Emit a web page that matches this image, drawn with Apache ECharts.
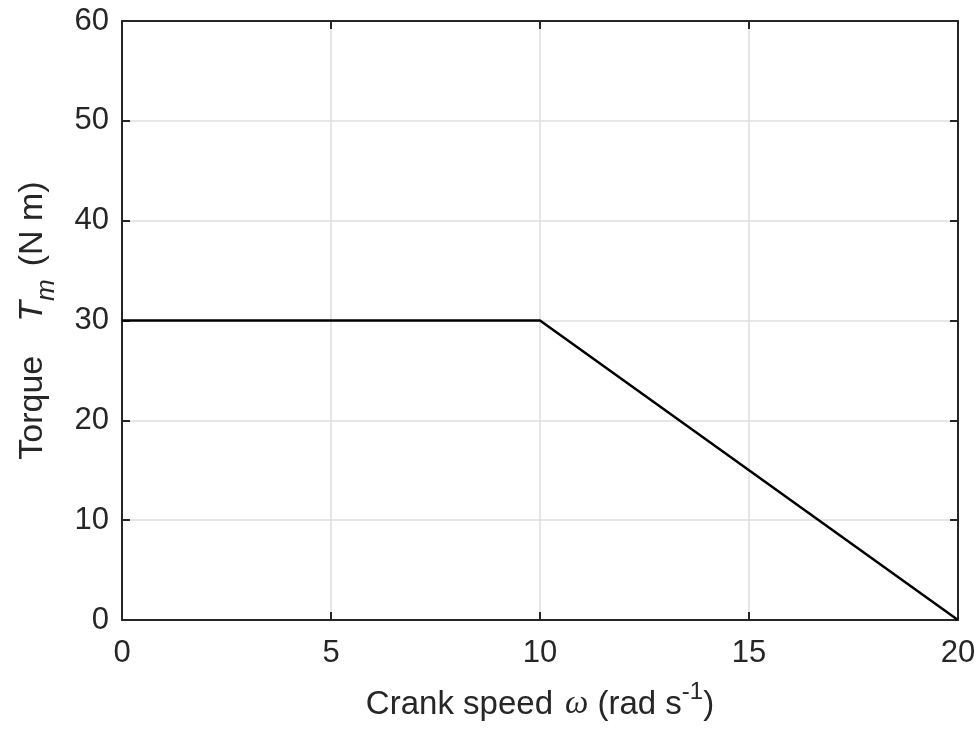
<!DOCTYPE html>
<html><head><meta charset="utf-8">
<script src="https://cdn.jsdelivr.net/npm/echarts@6/dist/echarts.min.js"></script>
<style>html,body{margin:0;padding:0;background:#fff}#c{width:979px;height:731px}</style>
</head><body><div id="c"></div>
<script>
const speed = [0, 10, 20];
const torque = [30, 30, 0];
const xTicks = [0, 5, 10, 15, 20];
const yTicks = [0, 10, 20, 30, 40, 50, 60];

const chart = echarts.init(document.getElementById('c'));
const ink = '#262626';
const font = 'Liberation Sans, Arial, sans-serif';
const serif = 'Liberation Serif, Times New Roman, serif';
const axisCommon = {
  axisLine: {show: true, onZero: false, lineStyle: {color: ink, width: 2}},
  axisTick: {show: true, inside: true, length: 8, lineStyle: {color: ink, width: 2}},
  splitLine: {show: false}
};
const gridLine = {splitLine: {show: true, lineStyle: {color: '#dedede', width: 1.5}}};
chart.setOption({
  animation: false,
  backgroundColor: '#fff',
  grid: {left: 122, right: 21, top: 21, bottom: 111, containLabel: false},
  xAxis: [
    Object.assign({type: 'value', min: 0, max: 20, interval: 5, position: 'bottom',
      name: '{n|Crank speed}{i|ω}{n| (rad s}{sup|-1}{n|)}',
      nameLocation: 'middle', nameGap: 60, nameMoveOverlap: false,
      nameTextStyle: {rich: {
        n: {fontSize: 33, fontFamily: font, color: ink, lineHeight: 41, verticalAlign: 'bottom'},
        i: {fontSize: 33, fontFamily: serif, fontStyle: 'italic', color: ink, lineHeight: 41, verticalAlign: 'bottom', padding: [0, 0, 0, 12]},
        sup: {fontSize: 24, fontFamily: font, color: ink, lineHeight: 41, verticalAlign: 'top'}
      }},
      axisLabel: {fontSize: 31, fontFamily: font, color: ink, margin: 18,
        formatter: v => xTicks.includes(v) ? String(v) : ''}
    }, axisCommon, gridLine),
    Object.assign({type: 'value', min: 0, max: 20, interval: 5, position: 'top',
      axisLabel: {show: false}}, axisCommon)
  ],
  yAxis: [
    Object.assign({type: 'value', min: 0, max: 60, interval: 10, position: 'left',
      name: '{n|Torque}{t|T}{s|m}{p|(N m)}',
      nameLocation: 'middle', nameGap: 62, nameRotate: 90, nameMoveOverlap: false,
      nameTextStyle: {rich: {
        n: {fontSize: 34, fontFamily: font, color: ink, lineHeight: 44, verticalAlign: 'top'},
        t: {fontSize: 34, fontFamily: font, fontStyle: 'italic', color: ink, lineHeight: 44, verticalAlign: 'top', padding: [0, 0, 0, 34]},
        s: {fontSize: 26, fontFamily: font, fontStyle: 'italic', color: ink, lineHeight: 44, verticalAlign: 'bottom'},
        p: {fontSize: 34, fontFamily: font, color: ink, lineHeight: 44, verticalAlign: 'top', padding: [0, 0, 0, 13]}
      }},
      axisLabel: {fontSize: 31, fontFamily: font, color: ink, margin: 13,
        formatter: v => yTicks.includes(v) ? String(v) : ''}
    }, axisCommon, gridLine),
    Object.assign({type: 'value', min: 0, max: 60, interval: 10, position: 'right',
      axisLabel: {show: false}}, axisCommon)
  ],
  series: [{
    type: 'line', xAxisIndex: 0, yAxisIndex: 0,
    data: speed.map((x, i) => [x, torque[i]]),
    showSymbol: false, symbol: 'none',
    lineStyle: {color: '#000', width: 2.5}
  }]
});
</script></body></html>
